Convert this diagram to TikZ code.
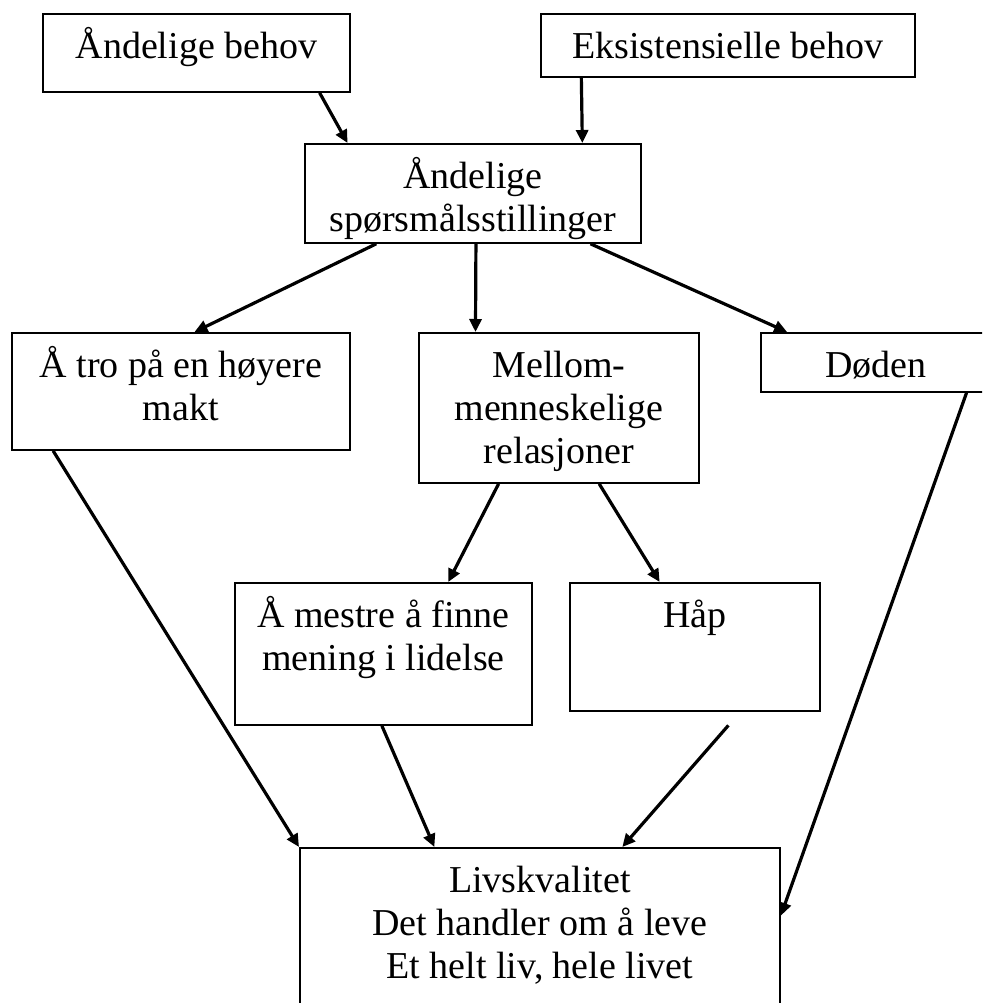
\documentclass[tikz,border=0pt]{standalone}
\usepackage{fontspec}
\setmainfont{Liberation Serif}
\usetikzlibrary{arrows.meta,calc}
\newcommand{\boksfont}{\fontsize{19}{21.5}\selectfont}
\newcommand{\innhold}[3]{\parbox[c][#2][t]{#1}{\centering\rule{0pt}{22.5pt}#3}}

\begin{document}
\begin{tikzpicture}[
		x=0.5pt,
		y=-0.5pt,
		boks/.style={
			draw,
			line width=0.9pt,
			inner sep=0pt,
			anchor=north west,
			font=\boksfont
		},
		pil/.style={
			-{Triangle[length=6.5pt,width=6pt]},
			line width=1.6pt
		}
		]
		
		\useasboundingbox (0,0) rectangle (982,1003);
		\clip (0,0) rectangle (982,1003);
		
		\node[boks] (andelige) at (42,13) {\innhold{153.5pt}{39pt}{Åndelige behov}};
		\node[boks] (eksist) at (540,13) {\innhold{187pt}{31.5pt}{Eksistensielle behov}};
		
		\node[boks] (sporsmal) at (304,143) {\innhold{168pt}{49.5pt}{Åndelige\\spørsmålsstillinger}};
		
		\node[boks] (tro) at (11,332) {\innhold{169pt}{58.5pt}{Å tro på en høyere\\makt}};
		\node[boks] (relasjoner) at (418,332) {\innhold{140pt}{75pt}{Mellom-\\menneskelige\\relasjoner}};
		\node[boks] (doden) at (760,332) {\innhold{115pt}{29.5pt}{Døden}};
		
		\node[boks] (mening) at (234,582) {\innhold{148.5pt}{71pt}{Å mestre å finne\\mening i lidelse}};
		\node[boks] (haap) at (569,582) {\innhold{125pt}{64pt}{Håp}};
		
		\node[boks] (livskvalitet) at (299,847) {\innhold{240pt}{90pt}{Livskvalitet\\Det handler om å leve\\Et helt liv, hele livet}};
		
		\draw[pil] ($(andelige.south west)!0.899!(andelige.south east)$) -- ($(sporsmal.north west)!0.129!(sporsmal.north east)$);
		\draw[pil] ($(eksist.south west)!0.11!(eksist.south east)$) -- ($(sporsmal.north west)!0.824!(sporsmal.north east)$);
		
		\draw[pil] ($(sporsmal.south west)!0.214!(sporsmal.south east)$) -- ($(tro.north west)!0.54!(tro.north east)$);
		\draw[pil] ($(sporsmal.south west)!0.509!(sporsmal.south east)$) -- ($(relasjoner.north west)!0.204!(relasjoner.north east)$);
		\draw[pil] ($(sporsmal.south west)!0.848!(sporsmal.south east)$) -- ($(doden.north west)!0.117!(doden.north east)$);
		
		\draw[pil] ($(relasjoner.south west)!0.286!(relasjoner.south east)$) -- ($(mening.north west)!0.717!(mening.north east)$);
		\draw[pil] ($(relasjoner.south west)!0.643!(relasjoner.south east)$) -- ($(haap.north west)!0.36!(haap.north east)$);
		
		\draw[pil] ($(tro.south west)!0.124!(tro.south east)$) -- (livskvalitet.north west);
		\draw[pil] ($(mening.south west)!0.495!(mening.south east)$) -- ($(livskvalitet.north west)!0.281!(livskvalitet.north east)$);
		\draw[pil, shorten <=9pt] ($(haap.south west)!0.68!(haap.south east)$) -- ($(livskvalitet.north west)!0.671!(livskvalitet.north east)$);
		\draw[pil] ($(doden.south west)!0.891!(doden.south east)$) -- ($(livskvalitet.north east)!0.378!(livskvalitet.south east)$);
		
	\end{tikzpicture}
\end{document}
